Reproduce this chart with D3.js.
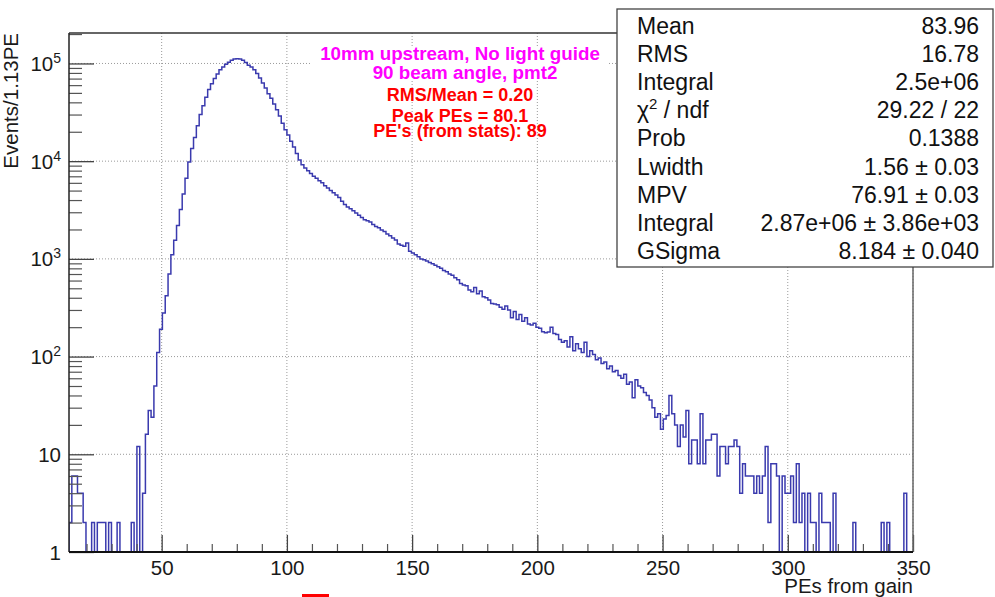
<!DOCTYPE html>
<html>
<head>
<meta charset="utf-8">
<script src="https://cdn.jsdelivr.net/npm/d3@7"></script>
<style>
  body { margin: 0; background: #fff; }
  svg { display: block; font-family: "Liberation Sans", Arial, Helvetica, sans-serif; }
</style>
</head>
<body>
<svg id="chart"></svg>
<script>
// --- data ---
const binStart = 13;
const binWidth = 1.13;
const binCounts = [
  2, 6, 6, 4, 4, 2, 0, 0, 2, 0, 2, 2, 2, 0, 2, 0, 0, 2, 0, 0, 0, 0, 2, 0, 12, 0,
  4, 16, 28, 24, 50, 110, 190, 280, 420, 700,
  1100, 1550, 2200, 3200, 4600, 6700, 9800, 13500, 17500, 23000,
  30000, 37000, 45000, 54000, 62000, 70000, 78000, 86000, 92000, 98000,
  103000, 108000, 111000, 112000, 111000, 108000, 102000, 96000, 92000, 86000,
  79000, 71000, 63000, 56000, 49000, 44000, 38500, 33500, 29000, 24500,
  21000, 18500, 16000, 14000, 12000, 10300, 9200, 8500, 8000, 7500,
  7000, 6700, 6300, 6000, 5600, 5300, 5000, 4750, 4500, 4250,
  3900, 3600, 3400, 3250, 3100, 2950, 2800, 2650, 2520, 2450,
  2380, 2250, 2150, 2080, 1980, 1910, 1800, 1720, 1640, 1560,
  1420, 1380, 1350, 1450, 1200, 1150, 1100, 1050, 1000, 980,
  950, 920, 890, 860, 830, 800, 760, 740, 700, 680,
  640, 610, 560, 540, 530, 480, 460, 510, 440, 470,
  410, 400, 380, 350, 345, 340, 320, 305, 330, 300,
  250, 290, 240, 270, 230, 250, 215, 210, 220, 200,
  195, 180, 175, 178, 200, 172, 168, 150, 140, 145,
  125, 160, 115, 135, 120, 110, 140, 100, 115, 105,
  93, 97, 85, 88, 75, 80, 70, 72, 64, 60,
  66, 52, 55, 38, 58, 50,
  48, 43, 40, 36, 30, 24, 26, 18, 23, 25,
  40, 26, 20, 12, 20, 15, 28, 8, 14, 14,
  8, 26, 8, 14, 14, 16, 16, 6, 12, 12,
  8, 12, 12, 14, 12, 4, 8, 6, 6, 6,
  4, 6, 4, 6, 12, 2, 8, 8, 6, 0,
  6, 4, 4, 6, 2, 8, 2, 4, 0, 4,
  2, 2, 0, 4, 2, 2, 2, 0, 4, 0,
  0, 0, 0, 0, 0, 2, 0, 0, 0, 0,
  0, 0, 0, 0, 0, 2, 0, 2, 0, 0,
  0, 0, 0, 4, 0, 0
];

const xDomain = [13, 350];
const xMajorTicks = [50, 100, 150, 200, 250, 300, 350];
const xMinorTicks = [20, 30, 40, 60, 70, 80, 90, 110, 120, 130, 140, 160, 170, 180, 190,
  210, 220, 230, 240, 260, 270, 280, 290, 310, 320, 330, 340];
const yMax = 2.05e5;
const yDecades = [0, 1, 2, 3, 4, 5];

const statsLabels = ["Mean", "RMS", "Integral", "χ2 / ndf", "Prob", "Lwidth", "MPV", "Integral", "GSigma"];
const statsValues = ["83.96", "16.78", "2.5e+06", "29.22 / 22", "0.1388",
  "1.56 ± 0.03", "76.91 ± 0.03", "2.87e+06 ± 3.86e+03", "8.184 ± 0.040"];

const noteLines = ["10mm upstream, No light guide", "90 beam angle, pmt2",
  "RMS/Mean = 0.20", "Peak PEs = 80.1", "PE's (from stats): 89"];
const noteColors = ["#ff00ff", "#ff00ff", "#ff0000", "#ff0000", "#ff0000"];

// --- layout ---
const width = 995;
const height = 597;
const frame = { left: 69, right: 913, top: 33, bottom: 552 };

const svg = d3.select("#chart")
  .attr("width", width)
  .attr("height", height)
  .attr("viewBox", [0, 0, width, height]);

svg.append("rect").attr("width", width).attr("height", height).attr("fill", "#fff");

const x = d3.scaleLinear().domain(xDomain).range([frame.left, frame.right]);
const y = d3.scaleLog().domain([1, yMax]).range([frame.bottom, frame.top]);

// grid
const grid = svg.append("g")
  .attr("stroke", "#9a9a9a")
  .attr("stroke-width", 1)
  .attr("stroke-dasharray", "1,2");

grid.selectAll("line.gx")
  .data(xMajorTicks)
  .join("line")
  .attr("class", "gx")
  .attr("x1", d => x(d)).attr("x2", d => x(d))
  .attr("y1", frame.top).attr("y2", frame.bottom);

grid.selectAll("line.gy")
  .data(yDecades.slice(1))
  .join("line")
  .attr("class", "gy")
  .attr("x1", frame.left).attr("x2", frame.right)
  .attr("y1", d => y(Math.pow(10, d))).attr("y2", d => y(Math.pow(10, d)));

// white pane behind the first two annotation lines
svg.append("rect")
  .attr("x", 310).attr("y", 47)
  .attr("width", 297).attr("height", 33)
  .attr("fill", "#fff");

// histogram
svg.append("clipPath").attr("id", "clip")
  .append("rect")
  .attr("x", frame.left).attr("y", frame.top)
  .attr("width", frame.right - frame.left).attr("height", frame.bottom - frame.top);

const pts = [[binStart, 0]];
binCounts.forEach((c, i) => pts.push([binStart + i * binWidth, c]));
const binEnd = binStart + binCounts.length * binWidth;
pts.push([binEnd, binCounts[binCounts.length - 1]]);
pts.push([binEnd, 0]);

const yv = v => v >= 1 ? y(v) : frame.bottom;

const line = d3.line()
  .x(d => x(d[0]))
  .y(d => yv(d[1]))
  .curve(d3.curveStepAfter);

svg.append("path")
  .attr("clip-path", "url(#clip)")
  .attr("d", line(pts))
  .attr("fill", "none")
  .attr("stroke", "#3a3aae")
  .attr("stroke-width", 1.5);

// axes (ticks point into the frame, ROOT style)
const xAxis = svg.append("g")
  .attr("transform", `translate(0,${frame.bottom})`)
  .call(d3.axisBottom(x).tickValues(xMajorTicks).tickSize(-17).tickSizeOuter(0).tickPadding(8));
xAxis.select(".domain").remove();
xAxis.selectAll(".tick line").attr("stroke", "#444").attr("stroke-width", 1.3);
xAxis.selectAll(".tick text")
  .attr("font-size", "20.5px")
  .attr("fill", "#1a1a1a")
  .attr("font-family", "Liberation Sans, Arial, sans-serif");

const xMinor = svg.append("g")
  .attr("transform", `translate(0,${frame.bottom})`)
  .call(d3.axisBottom(x).tickValues(xMinorTicks).tickSize(-8).tickSizeOuter(0).tickFormat(""));
xMinor.select(".domain").remove();
xMinor.selectAll(".tick line").attr("stroke", "#555").attr("stroke-width", 1.2);

const yMinorTicks = [];
yDecades.forEach(k => {
  for (let m = 2; m <= 9; m++) {
    const v = m * Math.pow(10, k);
    if (v < yMax) yMinorTicks.push(v);
  }
});

const yAxis = svg.append("g")
  .attr("transform", `translate(${frame.left},0)`)
  .call(d3.axisLeft(y).tickValues(yDecades.map(k => Math.pow(10, k))).tickSize(-25).tickSizeOuter(0).tickFormat(""));
yAxis.select(".domain").remove();
yAxis.selectAll(".tick line").attr("stroke", "#444").attr("stroke-width", 1.3);

const yMinor = svg.append("g")
  .attr("transform", `translate(${frame.left},0)`)
  .call(d3.axisLeft(y).tickValues(yMinorTicks).tickSize(-13).tickSizeOuter(0).tickFormat(""));
yMinor.select(".domain").remove();
yMinor.selectAll(".tick line").attr("stroke", "#555").attr("stroke-width", 1.2);

// y labels with superscripts
const yLabels = svg.append("g")
  .attr("font-size", "20.5px")
  .attr("fill", "#1a1a1a")
  .attr("text-anchor", "end");

yDecades.forEach(k => {
  const t = yLabels.append("text")
    .attr("x", 61)
    .attr("y", y(Math.pow(10, k)) + 7.5);
  if (k === 0) t.text("1");
  else if (k === 1) t.text("10");
  else {
    t.append("tspan").text("10");
    t.append("tspan").attr("font-size", "14px").attr("dy", -8).text(k);
  }
});

// frame
svg.append("line")
  .attr("x1", frame.left).attr("x2", frame.right)
  .attr("y1", frame.top).attr("y2", frame.top)
  .attr("stroke", "#333").attr("stroke-width", 1.3);
svg.append("line")
  .attr("x1", frame.right).attr("x2", frame.right)
  .attr("y1", frame.top).attr("y2", frame.bottom)
  .attr("stroke", "#666").attr("stroke-width", 1.5);
svg.append("line")
  .attr("x1", frame.left).attr("x2", frame.left)
  .attr("y1", frame.top).attr("y2", frame.bottom)
  .attr("stroke", "#222").attr("stroke-width", 1.5);
svg.append("line")
  .attr("x1", frame.left).attr("x2", frame.right)
  .attr("y1", frame.bottom).attr("y2", frame.bottom)
  .attr("stroke", "#111").attr("stroke-width", 2.2);

// axis titles
svg.append("text")
  .attr("transform", "translate(18,33) rotate(-90)")
  .attr("text-anchor", "end")
  .attr("font-size", "20.5px")
  .attr("fill", "#1a1a1a")
  .text("Events/1.13PE");

svg.append("text")
  .attr("x", frame.right)
  .attr("y", 593)
  .attr("text-anchor", "end")
  .attr("font-size", "20.5px")
  .attr("fill", "#1a1a1a")
  .text("PEs from gain");

// annotations
const noteY = [60, 78.5, 101, 121.5, 137];
const noteX = [460, 465, 460, 460, 460];
const noteSize = ["18.8px", "18.8px", "18px", "18px", "18px"];
svg.append("g")
  .attr("font-weight", "bold")
  .attr("text-anchor", "middle")
  .selectAll("text")
  .data(noteLines)
  .join("text")
  .attr("x", (d, i) => noteX[i])
  .attr("y", (d, i) => noteY[i])
  .attr("font-size", (d, i) => noteSize[i])
  .attr("fill", (d, i) => noteColors[i])
  .text(d => d);

// stats box
const stats = svg.append("g");
stats.append("rect")
  .attr("x", 617).attr("y", 9)
  .attr("width", 376).attr("height", 258)
  .attr("fill", "#fff")
  .attr("stroke", "#444")
  .attr("stroke-width", 1.3);

const rowY = i => 33.5 + i * 28.2;

statsLabels.forEach((lab, i) => {
  const t = stats.append("text")
    .attr("x", 637).attr("y", rowY(i))
    .attr("font-size", "23px")
    .attr("fill", "#111");
  if (lab.startsWith("χ")) {
    t.append("tspan").text("χ");
    t.append("tspan").attr("font-size", "15px").attr("dy", -9).text("2");
    t.append("tspan").attr("dy", 9).text(" / ndf");
  } else {
    t.text(lab);
  }
});

stats.selectAll("text.val")
  .data(statsValues)
  .join("text")
  .attr("class", "val")
  .attr("x", 979)
  .attr("y", (d, i) => rowY(i))
  .attr("text-anchor", "end")
  .attr("font-size", "23px")
  .attr("fill", "#111")
  .text(d => d);

// red mark peeking in at the bottom edge
svg.append("rect")
  .attr("x", 302).attr("y", 594)
  .attr("width", 27).attr("height", 4)
  .attr("fill", "#ff0000");
</script>
</body>
</html>
